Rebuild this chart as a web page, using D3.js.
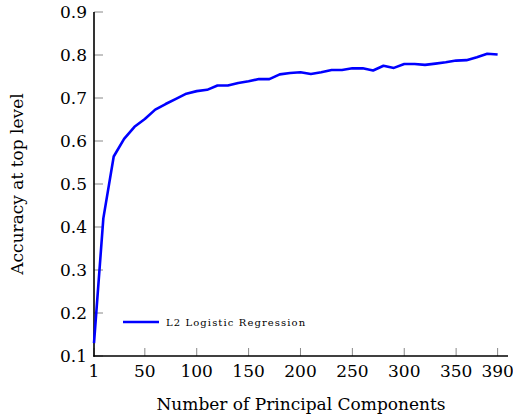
<!DOCTYPE html>
<html>
<head>
<meta charset="utf-8">
<script src="https://cdn.jsdelivr.net/npm/d3@7"></script>
<style>
  body { margin: 0; background: #fff; }
  svg text { font-family: "DejaVu Serif", serif; fill: #000; }
</style>
</head>
<body>
<svg width="513" height="415"></svg>
<script>
// number of principal components vs accuracy
const components = [1, 10, 20, 30, 40, 50, 60, 70, 80, 90, 100, 110, 120, 130, 140, 150, 160, 170, 180, 190,
  200, 210, 220, 230, 240, 250, 260, 270, 280, 290, 300, 310, 320, 330, 340, 350, 360, 370, 380, 390];
const accuracy = [0.13, 0.42, 0.564, 0.605, 0.633, 0.651, 0.673, 0.686, 0.698, 0.710, 0.716, 0.719, 0.729, 0.729,
  0.735, 0.739, 0.744, 0.744, 0.755, 0.758, 0.760, 0.756, 0.760, 0.765, 0.765, 0.769, 0.769, 0.764, 0.775, 0.770,
  0.779, 0.779, 0.777, 0.780, 0.783, 0.787, 0.788, 0.795, 0.803, 0.801];
const xTicks = [1, 50, 100, 150, 200, 250, 300, 350, 390];
const yTicks = [0.1, 0.2, 0.3, 0.4, 0.5, 0.6, 0.7, 0.8, 0.9];
const seriesName = "L2 Logistic Regression";

const data = components.map((c, i) => ({x: c, y: accuracy[i]}));

const svg = d3.select("svg");
const margin = {top: 12, right: 5, bottom: 59, left: 94};
const width = +svg.attr("width") - margin.left - margin.right;
const height = +svg.attr("height") - margin.top - margin.bottom;
const g = svg.append("g").attr("transform", `translate(${margin.left},${margin.top})`);

const x = d3.scaleLinear().domain([1, 400]).range([0, width]);
const y = d3.scaleLinear().domain([0.1, 0.9]).range([height, 0]);

// ticks (drawn inside the plot, grey)
g.selectAll(".ytick").data(yTicks).enter().append("line")
  .attr("x1", 0).attr("x2", 9)
  .attr("y1", d => y(d)).attr("y2", d => y(d))
  .attr("stroke", "#888").attr("stroke-width", 1);
g.selectAll(".xtick").data(xTicks).enter().append("line")
  .attr("x1", d => x(d)).attr("x2", d => x(d))
  .attr("y1", height).attr("y2", height - 8)
  .attr("stroke", "#888").attr("stroke-width", 1);

// axis lines
g.append("line").attr("x1", 0).attr("x2", 0).attr("y1", 0).attr("y2", height + 0.7)
  .attr("stroke", "#000").attr("stroke-width", 1.6);
g.append("line").attr("x1", -0.7).attr("x2", width).attr("y1", height).attr("y2", height)
  .attr("stroke", "#000").attr("stroke-width", 1.6);

// tick labels
g.selectAll(".ylab").data(yTicks).enter().append("text")
  .attr("x", -7).attr("y", d => y(d)).attr("dy", "0.35em")
  .attr("text-anchor", "end").attr("font-size", 17)
  .text(d => d3.format(".1f")(d));
g.selectAll(".xlab").data(xTicks).enter().append("text")
  .attr("x", d => x(d)).attr("y", height + 21)
  .attr("text-anchor", "middle").attr("font-size", 17)
  .text(d => d);

// axis titles
svg.append("text")
  .attr("x", margin.left + width / 2).attr("y", 410)
  .attr("text-anchor", "middle").attr("font-size", 17)
  .text("Number of Principal Components");
svg.append("text")
  .attr("transform", `translate(23,184) rotate(-90)`)
  .attr("text-anchor", "middle").attr("font-size", 17)
  .text("Accuracy at top level");

// series
const line = d3.line().x(d => x(d.x)).y(d => y(d.y));
g.append("path")
  .datum(data)
  .attr("fill", "none")
  .attr("stroke", "#0000ff")
  .attr("stroke-width", 2.6)
  .attr("stroke-linejoin", "round")
  .attr("d", line);

// legend
const legend = g.append("g").attr("transform", `translate(29,${y(0.1) - 34})`);
legend.append("line").attr("x1", 0).attr("x2", 36).attr("y1", 0).attr("y2", 0)
  .attr("stroke", "#0000ff").attr("stroke-width", 2.6);
legend.append("text").attr("x", 43).attr("y", 0).attr("dy", "0.35em")
  .attr("font-size", 10).attr("letter-spacing", 1.1)
  .text(seriesName);
</script>
</body>
</html>
